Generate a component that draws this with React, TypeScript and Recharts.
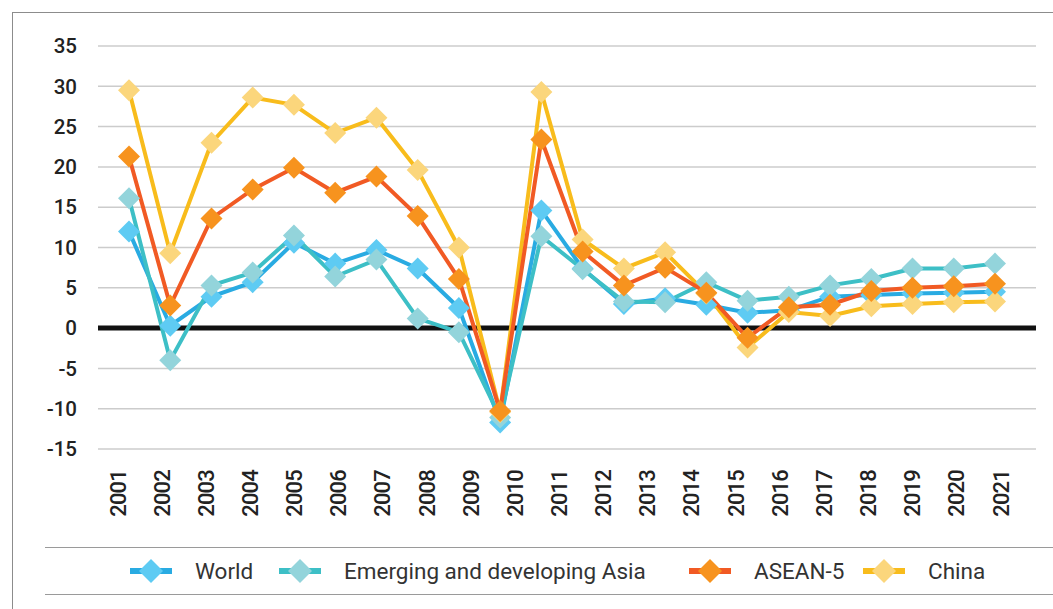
import React from 'react';
import {
  LineChart,
  Line,
  XAxis,
  YAxis,
  CartesianGrid,
  ReferenceLine,
  Legend,
} from 'recharts';

// values, one point per marker (22 markers)
const worldVals = [12.0, 0.3, 3.9, 5.7, 10.6, 8.0, 9.7, 7.4, 2.5, -11.7, 14.6, 7.4, 3.0, 3.7, 2.9, 1.9, 2.2, 3.9, 4.1, 4.3, 4.4, 4.5];
const asiaVals = [16.1, -4.0, 5.3, 6.9, 11.5, 6.4, 8.5, 1.2, -0.5, -11.1, 11.4, 7.3, 3.3, 3.2, 5.7, 3.4, 3.9, 5.3, 6.1, 7.4, 7.4, 8.0];
const aseanVals = [21.3, 2.8, 13.6, 17.2, 19.9, 16.8, 18.8, 13.9, 6.1, -10.3, 23.4, 9.5, 5.3, 7.5, 4.4, -1.2, 2.6, 2.9, 4.6, 5.0, 5.2, 5.5];
const chinaVals = [29.5, 9.3, 23.0, 28.6, 27.7, 24.2, 26.1, 19.6, 10.0, -10.4, 29.3, 11.0, 7.4, 9.4, 4.3, -2.4, 2.0, 1.5, 2.7, 3.0, 3.2, 3.3];

const yearLabels = [
  '2001', '2002', '2003', '2004', '2005', '2006', '2007', '2008', '2009', '2010', '2011',
  '2012', '2013', '2014', '2015', '2016', '2017', '2018', '2019', '2020', '2021',
];
const yTicks = [-15, -10, -5, 0, 5, 10, 15, 20, 25, 30, 35];

const series = [
  { key: 'world', name: 'World', line: '#29abe2', marker: '#5ecbf3' },
  { key: 'asia', name: 'Emerging and developing Asia', line: '#3dbfc6', marker: '#93d4db' },
  { key: 'china', name: 'China', line: '#f8bc1c', marker: '#fbd67c' },
  { key: 'asean', name: 'ASEAN-5', line: '#f15a24', marker: '#f7931e' },
];

const legendOrder = ['world', 'asia', 'asean', 'china'];
const legendLeft = [84, 233, 643, 817];

const data = worldVals.map((v, i) => ({
  i,
  world: v,
  asia: asiaVals[i],
  asean: aseanVals[i],
  china: chinaVals[i],
}));

const FONT = 'Roboto, "Noto Sans", sans-serif';

const makeDot = (fill: string) => (props: any) => {
  const { cx, cy, index } = props;
  if (cx == null || cy == null) return <g key={index} />;
  const r = 11;
  return (
    <polygon
      key={index}
      points={`${cx},${cy - r} ${cx + r},${cy} ${cx},${cy + r} ${cx - r},${cy}`}
      fill={fill}
    />
  );
};

const YearTick = (props: any) => {
  const { x, y, payload } = props;
  return (
    <text
      transform={`translate(${x},${y}) rotate(-90)`}
      textAnchor="end"
      dominantBaseline="central"
      fontFamily={FONT}
      fontSize={22}
      letterSpacing={-0.8}
      fontWeight={500}
      fill="#222"
    >
      {yearLabels[payload.value]}
    </text>
  );
};

const LegendContent = () => (
  <div style={{ position: 'relative', width: 1008, height: 46, borderTop: '1.5px solid #9a9a9a', borderBottom: '1.5px solid #9a9a9a' }}>
    {legendOrder.map((k, n) => {
      const s = series.find((d) => d.key === k)!;
      return (
        <div
          key={k}
          style={{ position: 'absolute', left: legendLeft[n], top: 0, height: 46, display: 'flex', alignItems: 'center' }}
        >
          <svg width={44} height={26} style={{ display: 'block' }}>
            <rect x={1} y={10} width={42} height={6} fill={s.line} />
            <polygon points="22,1 34,13 22,25 10,13" fill={s.marker} />
          </svg>
          <span style={{ marginLeft: 22, fontFamily: FONT, fontSize: 22.5, color: '#333' }}>{s.name}</span>
        </div>
      );
    })}
  </div>
);

export default function App() {
  return (
    <div style={{ position: 'absolute', left: 0, top: 0, width: 1053, height: 609, background: '#fff', overflow: 'hidden' }}>
      <div
        style={{
          position: 'absolute',
          left: 12,
          top: 12,
          width: 1100,
          height: 700,
          borderLeft: '1.5px solid #8c8c8c',
          borderTop: '1.5px solid #8c8c8c',
        }}
      />
      <LineChart width={1053} height={609} data={data} margin={{ top: 46, right: 17, left: 0, bottom: 100 }}>
        <CartesianGrid xAxisId="pts" vertical={false} stroke="#cccccc" strokeWidth={1.5} />
        <XAxis xAxisId="pts" dataKey="i" type="number" domain={[0, 21]} padding={{ left: 31, right: 41 }} hide />
        <XAxis
          xAxisId="lab"
          dataKey="i"
          type="number"
          domain={[0, 20]}
          allowDataOverflow
          ticks={yearLabels.map((_, i) => i)}
          interval={0}
          padding={{ left: 20, right: 35 }}
          axisLine={false}
          tickLine={false}
          tickSize={0}
          tickMargin={21}
          height={60}
          tick={<YearTick />}
        />
        <YAxis
          domain={[-15, 35]}
          ticks={yTicks}
          interval={0}
          width={98}
          axisLine={false}
          tickLine={false}
          tickSize={0}
          tickMargin={21}
          tick={{ fontFamily: FONT, fontSize: 20.5, fontWeight: 500, fill: '#222' }}
        />
        <ReferenceLine xAxisId="pts" y={0} stroke="#111" strokeWidth={5} />
        {series.map((s) => (
          <Line
            key={s.key}
            xAxisId="pts"
            type="linear"
            dataKey={s.key}
            name={s.name}
            stroke={s.line}
            strokeWidth={4}
            dot={makeDot(s.marker)}
            activeDot={false}
            isAnimationActive={false}
          />
        ))}
        <Legend
          verticalAlign="middle"
          layout="horizontal"
          wrapperStyle={{ position: 'absolute', left: 45, top: 547, width: 1008 }}
          content={<LegendContent />}
        />
      </LineChart>
    </div>
  );
}
